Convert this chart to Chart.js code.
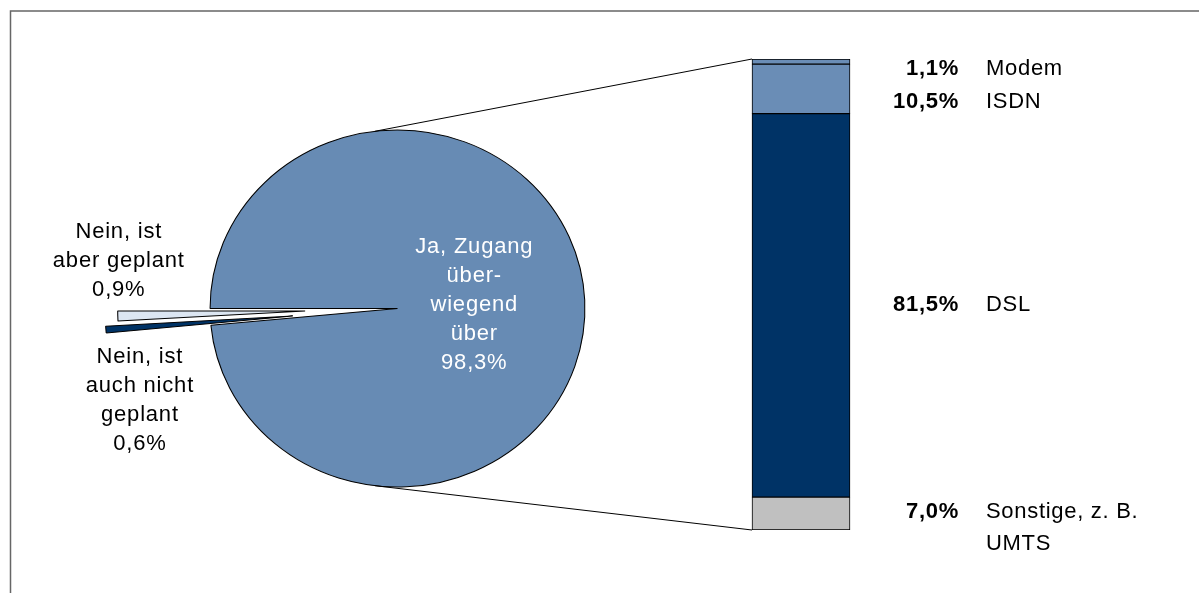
<!DOCTYPE html>
<html>
<head>
<meta charset="utf-8">
<script src="https://cdn.jsdelivr.net/npm/chart.js@4"></script>
<style>
  body { margin: 0; background: #fff; }
  #wrap { position: relative; width: 1199px; height: 593px; }
  #wrap canvas { position: absolute; left: 0; top: 0; }
</style>
</head>
<body>
<div id="wrap">
  <canvas id="bar" width="1199" height="593"></canvas>
  <canvas id="pie" width="1199" height="593"></canvas>
</div>
<script>
// pie: Internetzugang ja / nein
const pieLabels = ["Ja, Zugang überwiegend über", "Nein, ist auch nicht geplant", "Nein, ist aber geplant"];
const pieValues = [98.3, 0.6, 0.9];
const pieLabelLines = [
    ["Ja, Zugang", "über-", "wiegend", "über"],
    ["Nein, ist", "auch nicht", "geplant"],
    ["Nein, ist", "aber geplant"]
];

// bar: Zugangsart
const barLabels = ["Modem", "ISDN", "DSL", "Sonstige, z. B. UMTS"];
const barValues = [1.1, 10.5, 81.5, 7.0];
const barLabelLines = [["Modem"], ["ISDN"], ["DSL"], ["Sonstige, z. B.", "UMTS"]];

const pieColors = ["#678BB4", "#003366", "#DCE6F2"];
const barColors = ["#6A8DB6", "#6A8DB6", "#003366", "#C0C0C0"];

const FONT = '"Liberation Sans", Arial, sans-serif';
const PIE_CX = 397.5, PIE_CY = 308.5, PIE_R = 178.5, PIE_STRETCH = 1.05;
const explode = [0, 100, 88];
const pieLabelShift = [[0, 0], [34, 71], [1, -55]];
const barLabelNudge = [7, 13, 0, -2];

const fmt = v => v.toFixed(1).replace(".", ",") + "%";

function drawLines(ctx, lines, x, y, lineHeight, firstLine) {
    const top = firstLine ? y : y - (lines.length - 1) * lineHeight / 2;
    lines.forEach((line, k) => ctx.fillText(line, x, top + k * lineHeight));
}

// ---- bar chart ----
const barTotal = barValues.reduce((a, b) => a + b, 0);
const barOrder = [3, 2, 1, 0];

const framePlugin = {
    id: "frame",
    beforeDraw(chart) {
        const ctx = chart.ctx;
        ctx.save();
        ctx.strokeStyle = "#666";
        ctx.lineWidth = 1.5;
        ctx.beginPath();
        ctx.moveTo(10.5, chart.height);
        ctx.lineTo(10.5, 11);
        ctx.lineTo(chart.width, 11);
        ctx.stroke();
        ctx.restore();
    }
};

const barLabelPlugin = {
    id: "barLabels",
    afterDatasetsDraw(chart) {
        const ctx = chart.ctx;
        ctx.save();
        ctx.fillStyle = "#000";
        ctx.textBaseline = "middle";
        ctx.letterSpacing = "0.7px";
        chart.data.datasets.forEach((ds, d) => {
            const i = barOrder[d];
            const el = chart.getDatasetMeta(d).data[0];
            const right = el.x + el.width / 2;
            const y = (el.y + el.base) / 2 + barLabelNudge[i];
            ctx.font = "bold 22px " + FONT;
            ctx.textAlign = "right";
            ctx.fillText(fmt(barValues[i]), right + 109, y);
            ctx.font = "22px " + FONT;
            ctx.textAlign = "left";
            drawLines(ctx, barLabelLines[i], right + 136, y, 32, true);
        });
        ctx.restore();
    }
};

const barChart = new Chart(document.getElementById("bar"), {
    type: "bar",
    data: {
        labels: [""],
        datasets: barOrder.map(i => ({
            label: barLabels[i],
            data: [barValues[i]],
            backgroundColor: barColors[i],
            borderColor: "#000",
            borderWidth: 1,
            borderSkipped: false,
            barThickness: 98
        }))
    },
    options: {
        responsive: false,
        animation: false,
        devicePixelRatio: 1,
        events: [],
        layout: { padding: { left: 700, right: 297, top: 59, bottom: 63 } },
        scales: {
            x: { stacked: true, display: false },
            y: { stacked: true, display: false, min: 0, max: barTotal }
        },
        plugins: { legend: { display: false }, tooltip: { enabled: false } }
    },
    plugins: [framePlugin, barLabelPlugin]
});

// ---- pie chart ----
const pieTweaks = {
    id: "pieTweaks",
    afterDatasetUpdate(chart, args) {
        args.meta.data.forEach((arc, i) => {
            const mid = (arc.startAngle + arc.endAngle) / 2;
            arc.x += Math.cos(mid) * explode[i];
            arc.y += Math.sin(mid) * explode[i];
        });
    },
    beforeDatasetsDraw(chart) {
        const a = chart.chartArea;
        const cx = (a.left + a.right) / 2, cy = (a.top + a.bottom) / 2;
        const ctx = chart.ctx;
        ctx.save();
        ctx.translate(cx, cy);
        ctx.scale(PIE_STRETCH, 1);
        ctx.translate(-cx, -cy);
    },
    afterDatasetsDraw(chart) {
        const ctx = chart.ctx;
        ctx.restore();
        const a = chart.chartArea;
        const cx = (a.left + a.right) / 2, cy = (a.top + a.bottom) / 2;
        const sx = x => cx + (x - cx) * PIE_STRETCH;
        const arcs = chart.getDatasetMeta(0).data;

        // connector lines to the stacked bar
        const R = arcs[0].outerRadius;
        const ys = barChart.scales.y;
        const barEl = barChart.getDatasetMeta(0).data[0];
        const barLeft = barEl.x - barEl.width / 2;
        const ang = 97 * Math.PI / 180;
        ctx.save();
        ctx.strokeStyle = "#000";
        ctx.lineWidth = 1;
        ctx.beginPath();
        ctx.moveTo(sx(cx + Math.cos(-ang) * R), cy + Math.sin(-ang) * R);
        ctx.lineTo(barLeft, ys.getPixelForValue(barTotal));
        ctx.moveTo(sx(cx + Math.cos(ang) * R), cy + Math.sin(ang) * R);
        ctx.lineTo(barLeft, ys.getPixelForValue(0));
        ctx.stroke();

        // slice labels
        ctx.font = "22px " + FONT;
        ctx.letterSpacing = "0.8px";
        ctx.textAlign = "center";
        ctx.textBaseline = "middle";
        arcs.forEach((arc, i) => {
            const mid = (arc.startAngle + arc.endAngle) / 2;
            const f = i === 0 ? 0.41 : 1;
            const x = sx(arc.x + Math.cos(mid) * arc.outerRadius * f) + pieLabelShift[i][0];
            const y = arc.y + Math.sin(mid) * arc.outerRadius * f + pieLabelShift[i][1];
            ctx.fillStyle = i === 0 ? "#fff" : "#000";
            drawLines(ctx, pieLabelLines[i].concat([fmt(pieValues[i])]), x, y, 29, false);
        });
        ctx.restore();
    }
};

new Chart(document.getElementById("pie"), {
    type: "pie",
    data: {
        labels: pieLabels,
        datasets: [{
            data: pieValues,
            backgroundColor: pieColors,
            borderColor: "#000",
            borderWidth: 1
        }]
    },
    options: {
        responsive: false,
        animation: false,
        devicePixelRatio: 1,
        events: [],
        radius: PIE_R,
        rotation: 270,
        layout: { padding: { left: 0, right: 1199 - 2 * PIE_CX, top: 2 * PIE_CY - 593, bottom: 0 } },
        plugins: { legend: { display: false }, tooltip: { enabled: false } }
    },
    plugins: [pieTweaks]
});
</script>
</body>
</html>
